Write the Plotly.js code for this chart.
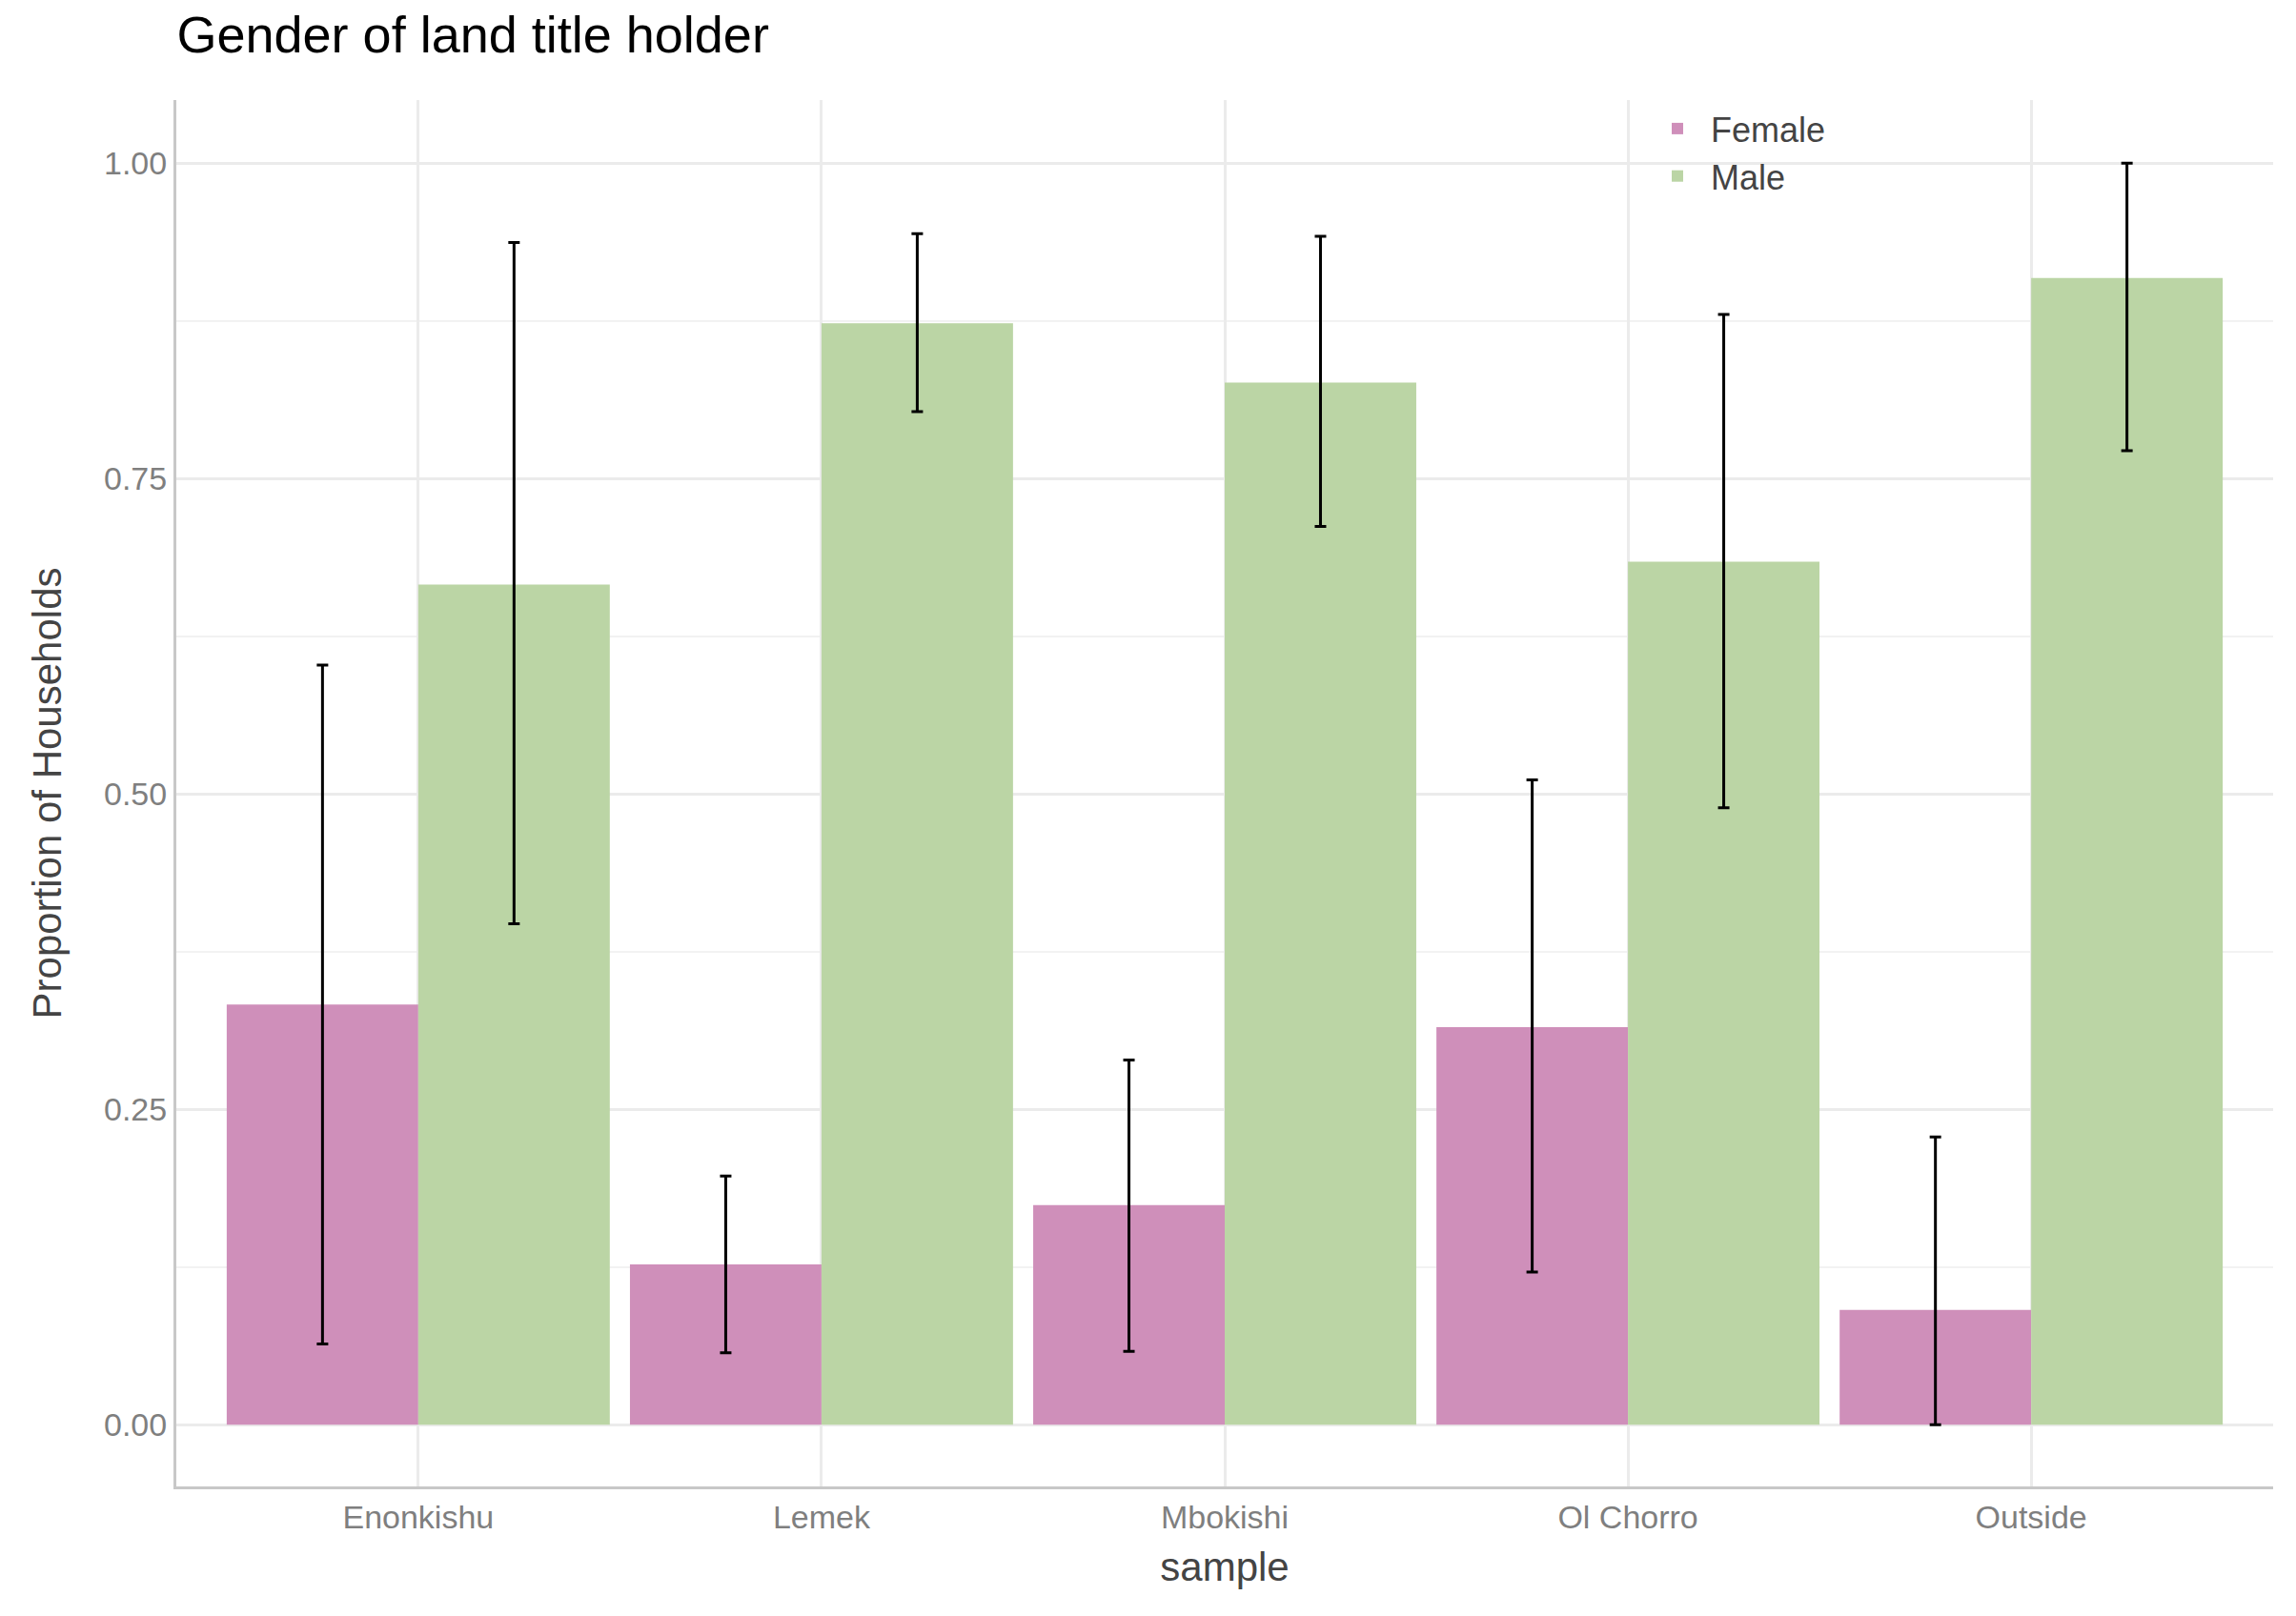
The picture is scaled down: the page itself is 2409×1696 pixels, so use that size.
<!DOCTYPE html>
<html>
<head>
<meta charset="utf-8">
<script src="https://cdn.plot.ly/plotly-3.0.1.min.js"></script>
<style>html,body{margin:0;padding:0;background:#fff}</style>
</head>
<body>
<div id="chart" style="width:2409px;height:1696px"></div>
<script>
var samples = ['Enonkishu', 'Lemek', 'Mbokishi', 'Ol Chorro', 'Outside'];

var female = [0.333, 0.127, 0.174, 0.315, 0.091];
var femaleHi = [0.602, 0.197, 0.289, 0.511, 0.228];
var femaleLo = [0.064, 0.057, 0.058, 0.121, 0.0];

var male = [0.666, 0.873, 0.826, 0.684, 0.909];
var maleHi = [0.937, 0.944, 0.942, 0.880, 1.0];
var maleLo = [0.397, 0.803, 0.712, 0.489, 0.772];

function plus(v, hi) { return hi.map(function(h, i) { return h - v[i]; }); }
function minus(v, lo) { return lo.map(function(l, i) { return v[i] - l; }); }

var errStyle = {color: '#000', thickness: 3, width: 6};

var traceF = {
  x: samples, y: female, name: 'Female', type: 'bar',
  marker: {color: '#cf8fba'},
  error_y: Object.assign({type: 'data', symmetric: false,
    array: plus(female, femaleHi), arrayminus: minus(female, femaleLo)}, errStyle)
};

var traceM = {
  x: samples, y: male, name: 'Male', type: 'bar',
  marker: {color: '#bbd5a5'},
  error_y: Object.assign({type: 'data', symmetric: false,
    array: plus(male, maleHi), arrayminus: minus(male, maleLo)}, errStyle)
};

var layout = {
  width: 2409, height: 1696,
  margin: {l: 185, r: 24, t: 105, b: 136},
  font: {family: 'Arial, Liberation Sans, sans-serif', color: '#444'},
  title: {text: 'Gender of land title holder', x: 0.077, xanchor: 'left', y: 0.99, yanchor: 'top',
    font: {size: 54, color: '#000'}},
  barmode: 'group', bargap: 0.05, bargroupgap: 0,
  plot_bgcolor: '#fff', paper_bgcolor: '#fff',
  xaxis: {
    range: [-0.6, 4.6], showgrid: true, gridcolor: '#ebebeb', gridwidth: 3,
    showline: true, linecolor: '#c8c8c8', linewidth: 3, zeroline: false,
    tickfont: {size: 34, color: '#7f7f7f'}, ticks: '', ticklen: 0,
    title: {text: 'sample', font: {size: 42, color: '#444'}, standoff: 20}
  },
  yaxis: {
    range: [-0.049, 1.05], tickvals: [0, 0.25, 0.5, 0.75, 1.0],
    ticktext: ['0.00', '0.25', '0.50', '0.75', '1.00'],
    showgrid: true, gridcolor: '#ebebeb', gridwidth: 3,
    minor: {tickvals: [0.125, 0.375, 0.625, 0.875], showgrid: true, gridcolor: '#f2f2f2', gridwidth: 2},
    showline: true, linecolor: '#c8c8c8', linewidth: 3, zeroline: false,
    tickfont: {size: 34, color: '#7f7f7f'}, ticks: '', ticklen: 10, tickcolor: '#fff',
    title: {text: 'Proportion of Households', font: {size: 42, color: '#444'}, standoff: 32}
  },
  legend: {x: 0.7, y: 1.0, xanchor: 'left', yanchor: 'top', bgcolor: 'rgba(0,0,0,0)',
    font: {size: 36, color: '#444'}, itemwidth: 60, tracegroupgap: 22}
};

Plotly.newPlot('chart', [traceF, traceM], layout, {displayModeBar: false});
</script>
</body>
</html>
